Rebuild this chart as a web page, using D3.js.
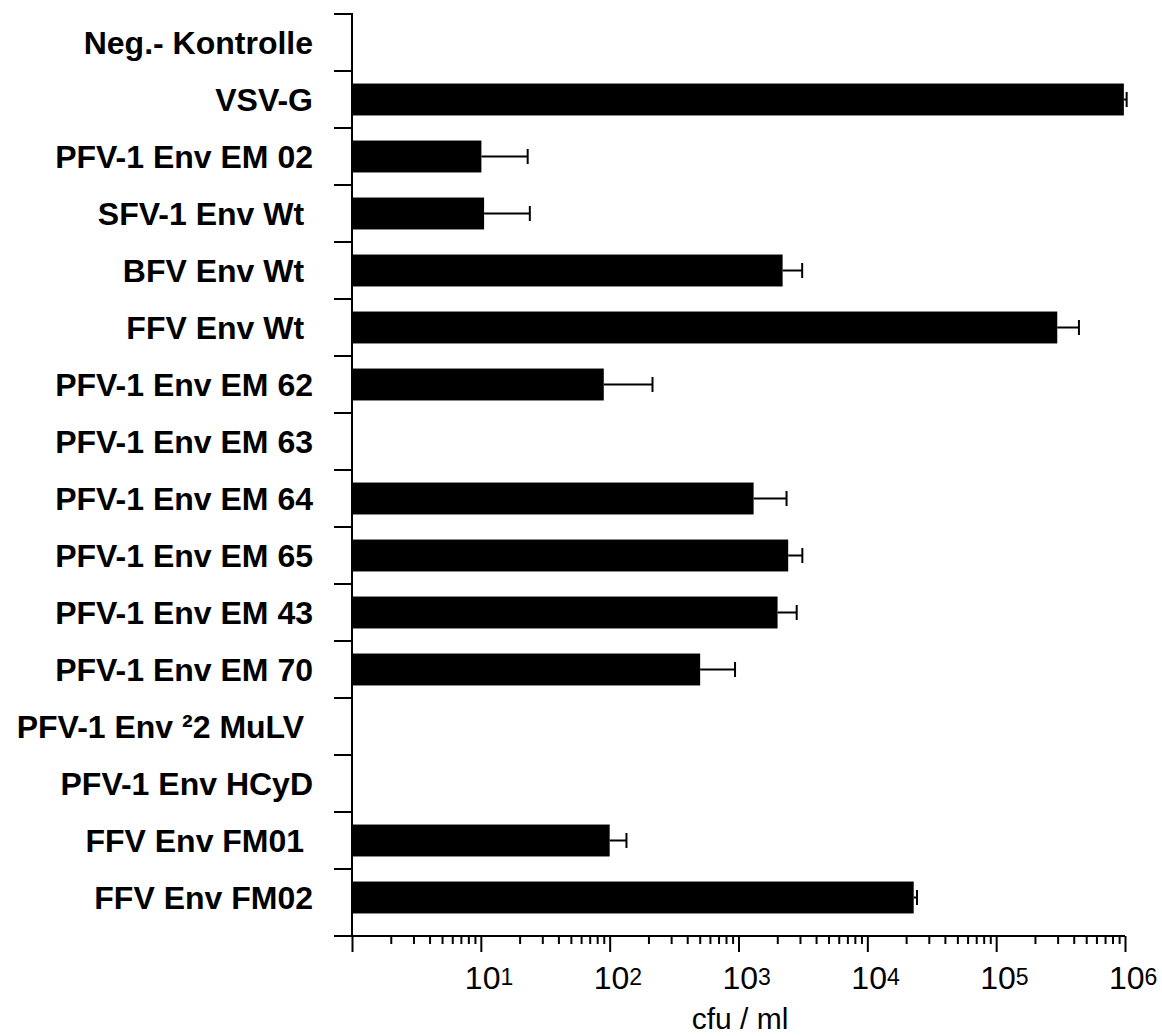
<!DOCTYPE html>
<html>
<head>
<meta charset="utf-8">
<script src="https://cdn.jsdelivr.net/npm/d3@7"></script>
<style>
  body { margin: 0; background: #fff; }
  text { font-family: "Liberation Sans", Arial, sans-serif; fill: #000; }
</style>
</head>
<body>
<div id="chart"></div>
<script>
// categories, top to bottom
var categories = [
  "Neg.- Kontrolle",
  "VSV-G",
  "PFV-1 Env EM 02",
  "SFV-1 Env Wt ",
  "BFV Env Wt ",
  "FFV Env Wt ",
  "PFV-1 Env EM 62",
  "PFV-1 Env EM 63",
  "PFV-1 Env EM 64",
  "PFV-1 Env EM 65",
  "PFV-1 Env EM 43",
  "PFV-1 Env EM 70",
  "PFV-1 Env \u00b22 MuLV ",
  "PFV-1 Env HCyD",
  "FFV Env FM01 ",
  "FFV Env FM02"
];

// cfu / ml (null = no bar)
var values = [null, 9.8e5, 10.1, 10.6, 2200, 2.98e5, 90, null, 1310, 2430, 2010, 504, null, null, 100, 22900];
// upper end of the error bar
var errorTops = [null, 1.03e6, 23.1, 24.0, 3120, 4.39e5, 215, null, 2360, 3130, 2830, 940, null, null, 135, 24300];

var majorTicks = [1, 10, 100, 1e3, 1e4, 1e5, 1e6];
var tickExponents = ["", "1", "2", "3", "4", "5", "6"];
var axisTitle = "cfu / ml";

var width = 1162,
  height = 1036;

var svg = d3.select('#chart')
  .append('svg')
  .attr('width', width)
  .attr('height', height);

var x = d3.scaleLog()
  .domain([1, 1e6])
  .range([352, 1125]);

var y = d3.scaleBand()
  .domain(categories)
  .range([14, 14 + 16 * 57])
  .paddingInner(0.44)
  .paddingOuter(0.22);

var axisY = 936;

// minor ticks 2..9 in each decade
var minorTicks = [];
majorTicks.slice(0, -1).forEach(function(d) {
  for (var k = 2; k <= 9; k++) minorTicks.push(d * k);
});

// bars
svg.append('g')
  .selectAll('rect')
  .data(categories.filter(function(c, i) { return values[i] !== null; }))
  .enter()
  .append('rect')
  .attr('x', x(1))
  .attr('y', function(c) { return y(c); })
  .attr('width', function(c) { return x(values[categories.indexOf(c)]) - x(1); })
  .attr('height', y.bandwidth())
  .attr('fill', '#000');

// error bars
var err = svg.append('g')
  .attr('stroke', '#000')
  .attr('stroke-width', 2);

categories.forEach(function(c, i) {
  if (values[i] === null) return;
  var cy = y(c) + y.bandwidth() / 2;
  err.append('line')
    .attr('x1', x(values[i])).attr('x2', x(errorTops[i]))
    .attr('y1', cy).attr('y2', cy);
  err.append('line')
    .attr('x1', x(errorTops[i])).attr('x2', x(errorTops[i]))
    .attr('y1', cy - 7.5).attr('y2', cy + 7.5);
});

// y axis: line and ticks at the category boundaries
var yAxis = svg.append('g')
  .attr('stroke', '#000')
  .attr('stroke-width', 2);

yAxis.append('line')
  .attr('x1', x(1)).attr('x2', x(1))
  .attr('y1', 13).attr('y2', axisY);

categories.forEach(function(c) {
  var b = y(c) - y.step() * y.paddingOuter();
  yAxis.append('line')
    .attr('x1', 334).attr('x2', x(1))
    .attr('y1', b).attr('y2', b);
});

// category labels
svg.append('g')
  .selectAll('text')
  .data(categories)
  .enter()
  .append('text')
  .attr('x', 313)
  .attr('y', function(c) { return y(c) + y.bandwidth() / 2 + 11; })
  .attr('text-anchor', 'end')
  .style('white-space', 'pre')
  .attr('font-size', 32)
  .attr('font-weight', 'bold')
  .text(function(c) { return c; });

// x axis
svg.append('line')
  .attr('x1', 334).attr('x2', x(1e6))
  .attr('y1', axisY).attr('y2', axisY)
  .attr('stroke', '#000')
  .attr('stroke-width', 2);

svg.append('g')
  .attr('transform', 'translate(0,' + axisY + ')')
  .call(d3.axisBottom(x).tickValues(minorTicks).tickSize(8).tickSizeOuter(0).tickFormat(''));

svg.append('g')
  .attr('transform', 'translate(0,' + axisY + ')')
  .call(d3.axisBottom(x).tickValues(majorTicks).tickSize(16).tickSizeOuter(0).tickFormat(''));

svg.selectAll('.domain').remove();
svg.selectAll('.tick line').attr('stroke', '#000').attr('stroke-width', 2);

// tick labels 10^n
var labels = svg.append('g')
  .selectAll('text')
  .data(majorTicks.slice(1))
  .enter()
  .append('text')
  .attr('x', function(d) { return x(d) - 16; })
  .attr('y', 989)
  .attr('font-size', 32);

labels.append('tspan').text('10');
labels.append('tspan')
  .attr('font-size', 23)
  .attr('dy', -4)
  .text(function(d, i) { return tickExponents[i + 1]; });

svg.append('text')
  .attr('x', 740)
  .attr('y', 1029)
  .attr('text-anchor', 'middle')
  .attr('font-size', 30)
  .text(axisTitle);
</script>
</body>
</html>
